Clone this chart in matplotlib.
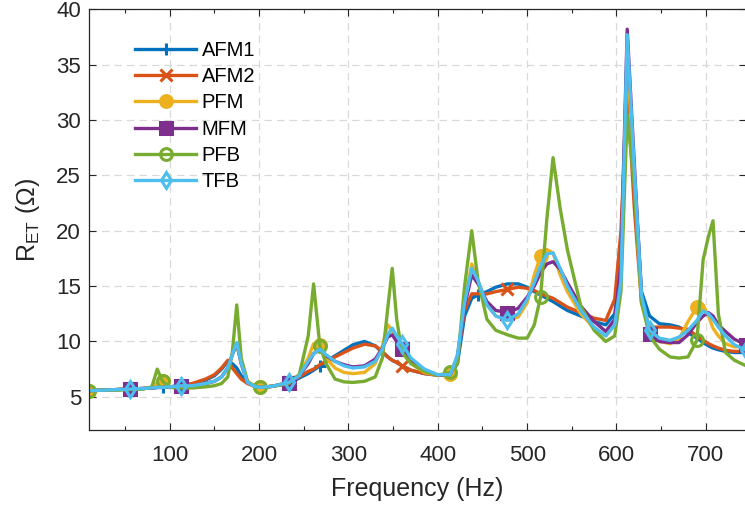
import numpy as np
import matplotlib
matplotlib.use("Agg")
import matplotlib.pyplot as plt
from matplotlib.ticker import MultipleLocator

# frequency grid (Hz), shared by all series
freq = [10, 25, 40, 55, 70, 80, 86, 92, 100, 113, 125, 140, 150, 158, 165, 170,
        175, 180, 187, 195, 201, 215, 233, 245, 255, 261, 268, 275, 285, 295,
        305, 318, 330, 338, 344, 349, 354, 360, 370, 385, 400, 414, 422, 430,
        438, 445, 455, 465, 478, 490, 500, 508, 515, 522, 529, 537, 545, 560,
        575, 588, 598, 605, 612, 620, 628, 637, 648, 660, 670, 680, 690, 697,
        703, 708, 714, 722, 732, 745]

afm1 = [5.55, 5.6, 5.65, 5.7, 5.75, 5.8, 5.85, 5.85, 5.9, 6.0, 6.15, 6.5, 6.9, 7.5, 8.2, 8.0,
        7.6, 6.9, 6.3, 5.95, 5.85, 5.95, 6.2, 6.7, 7.1, 7.4, 7.8, 8.2, 8.7, 9.2,
        9.7, 10.0, 9.6, 9.0, 8.6, 8.3, 8.1, 7.8, 7.4, 7.1, 6.95, 7.0, 8.0, 12.3,
        13.9, 14.2, 14.5, 14.9, 15.2, 15.2, 14.9, 14.5, 14.2, 13.9, 13.6, 13.2, 12.8, 12.3,
        11.8, 11.5, 12.5, 16.5, 36.5, 25.0, 14.5, 12.3, 11.6, 11.5, 11.3, 10.8, 10.3, 9.9,
        9.6, 9.4, 9.25, 9.1, 9.0, 9.0]

afm2 = [5.55, 5.6, 5.65, 5.7, 5.75, 5.8, 5.85, 5.85, 5.9, 6.0, 6.2, 6.6, 7.0, 7.6, 8.3, 7.6,
        7.1, 6.6, 6.2, 5.95, 5.85, 5.95, 6.3, 6.8, 7.3, 7.5, 7.9, 8.2, 8.6, 9.0,
        9.4, 9.75, 9.6, 9.1, 8.6, 8.3, 8.1, 7.8, 7.4, 7.1, 6.95, 7.1, 8.6, 12.8,
        14.3, 14.3, 14.3, 14.5, 14.7, 14.9, 14.8, 14.6, 14.3, 14.1, 13.9, 13.5, 13.1, 12.6,
        12.1, 11.9, 13.8, 20.0, 33.0, 22.0, 13.5, 11.3, 11.3, 11.3, 11.2, 11.1, 10.5, 10.1,
        9.8, 9.6, 9.4, 9.2, 9.1, 9.1]

pfm = [5.55, 5.6, 5.65, 5.7, 5.75, 5.85, 6.3, 6.4, 5.9, 5.9, 6.0, 6.2, 6.4, 6.8, 7.6, 8.8,
       9.8, 8.0, 6.4, 5.95, 5.85, 5.95, 6.3, 7.0, 8.5, 9.8, 9.7, 8.5, 7.6, 7.2,
       7.1, 7.2, 8.0, 9.6, 11.5, 11.0, 10.0, 9.2, 8.0, 7.2, 6.95, 7.1, 8.5, 13.5,
       17.0, 15.5, 13.3, 12.3, 11.9, 12.2, 13.5, 16.0, 17.7, 18.3, 18.0, 16.0, 14.5, 12.5,
       11.2, 10.5, 11.5, 15.5, 36.0, 24.5, 13.5, 11.0, 10.0, 9.8, 10.2, 11.8, 13.1, 13.3,
       12.3, 11.2, 10.5, 9.8, 9.5, 9.6]

mfm = [5.55, 5.6, 5.65, 5.7, 5.75, 5.8, 5.85, 5.85, 5.9, 6.0, 6.0, 6.2, 6.4, 6.8, 7.6, 8.8,
       9.8, 8.0, 6.3, 5.95, 5.85, 5.95, 6.25, 6.9, 8.0, 8.9, 9.3, 8.7, 8.2, 7.9,
       7.7, 7.8, 8.4, 9.4, 10.4, 10.6, 10.0, 9.3, 8.3, 7.4, 6.95, 7.0, 8.5, 13.2,
       16.0, 15.2, 13.6, 12.8, 12.6, 13.0, 14.0, 15.0, 16.2, 17.0, 17.2, 16.5, 15.3, 13.2,
       11.8, 10.9, 12.0, 17.0, 38.2, 26.0, 14.0, 10.7, 10.0, 9.9, 9.9, 10.6, 11.7, 12.3,
       12.6, 12.3, 11.5, 10.9, 10.2, 9.7]

pfb = [5.55, 5.6, 5.6, 5.65, 5.7, 5.9, 7.5, 6.4, 5.85, 5.8, 5.8, 5.9, 6.0, 6.2, 6.8, 9.0,
       13.3, 8.5, 6.4, 5.9, 5.85, 5.95, 6.2, 7.0, 10.5, 15.2, 9.6, 8.0, 6.6, 6.35,
       6.3, 6.4, 6.8, 8.5, 13.0, 16.6, 12.0, 9.0, 8.0, 7.3, 6.95, 7.2, 8.0, 15.0,
       20.0, 15.5, 12.0, 11.0, 10.6, 10.3, 10.3, 11.5, 14.0, 21.0, 26.6, 22.0, 18.3, 13.2,
       11.0, 10.0, 10.5, 14.5, 30.5, 24.0, 13.5, 10.5, 9.3, 8.6, 8.5, 8.6, 10.1, 17.4,
       19.5, 20.9, 12.5, 9.0, 8.3, 7.8]

tfb = [5.55, 5.6, 5.65, 5.7, 5.75, 5.8, 5.85, 5.85, 5.9, 6.0, 6.0, 6.2, 6.4, 6.8, 7.6, 8.8,
       9.9, 8.0, 6.3, 5.95, 5.85, 5.95, 6.3, 6.9, 8.2, 8.9, 9.3, 8.8, 8.2, 7.8,
       7.6, 7.7, 8.2, 9.3, 10.6, 11.2, 10.5, 9.8, 8.5, 7.5, 7.0, 7.0, 8.8, 13.5,
       16.6, 15.5, 13.3, 12.3, 11.9, 12.5, 13.8, 15.3, 16.8, 17.9, 18.0, 16.6, 15.0, 12.8,
       11.3, 10.5, 11.5, 15.5, 37.7, 25.5, 14.2, 11.0, 10.3, 10.1, 10.4, 11.0, 11.9, 12.75,
       12.5, 12.0, 11.3, 10.5, 9.7, 9.2]

labels = ["AFM1", "AFM2", "PFM", "MFM", "PFB", "TFB"]
# frequencies where each series shows a marker
mark_freqs = [
    [92, 268, 445],
    [233, 360, 478],
    [10, 92, 201, 268, 414, 515, 690],
    [55, 113, 233, 360, 478, 637, 745],
    [10, 92, 201, 268, 414, 515, 690],
    [55, 113, 233, 360, 478, 637, 745],
]

colors = ["#0072BD", "#D95319", "#EDB120", "#7E2F8E", "#77AC30", "#4DBEEE"]
markers = ["+", "x", "o", "s", "o", "d"]
filled = [True, True, True, True, False, False]

plt.rcParams['font.family'] = ['Liberation Sans', 'DejaVu Sans']

fig = plt.figure(figsize=(7.45, 5.08), dpi=100)
ax = fig.add_axes([0.1199, 0.1535, 0.8815, 0.8282])

series = [afm1, afm2, pfm, mfm, pfb, tfb]
for y, lab, c, m, fl, mf in zip(series, labels, colors, markers, filled, mark_freqs):
    idx = [freq.index(v) for v in mf]
    ax.plot(freq, y, color=c, lw=2.4, marker=m, markevery=idx,
            markersize=8.5, markeredgewidth=2.2,
            markerfacecolor=c if fl else 'none', markeredgecolor=c,
            label=lab)

ax.set_xlim(10, 745)
ax.set_ylim(2, 40)
ax.xaxis.set_major_locator(MultipleLocator(100))
ax.xaxis.set_minor_locator(MultipleLocator(50))
ax.yaxis.set_major_locator(MultipleLocator(5))

ax.grid(True, which='major', color='#d9d9d9', linestyle=(0, (6, 4)), lw=0.9)
ax.set_axisbelow(True)
ax.tick_params(which='both', direction='in', top=True, right=True,
               colors='#262626', labelsize=16)
ax.tick_params(axis='x', which='major', pad=11)
ax.tick_params(axis='y', which='major', pad=6)
ax.tick_params(which='major', length=5, width=0.8)
ax.tick_params(which='minor', length=3, width=0.8)
for s in ax.spines.values():
    s.set_color('#262626')
    s.set_linewidth(0.9)

ax.set_xlabel("Frequency (Hz)", fontsize=18, color='#262626', labelpad=8)
ax.set_ylabel("R$_{\\mathregular{ET}}$ (Ω)", fontsize=18, color='#262626', labelpad=10)

ax.legend(loc='upper left', bbox_to_anchor=(0.07, 0.925), frameon=False,
          fontsize=14.5, handlelength=3.0, handletextpad=0.3, labelspacing=0.36,
          borderaxespad=0, borderpad=0)

fig.savefig("out.png", dpi=100)
